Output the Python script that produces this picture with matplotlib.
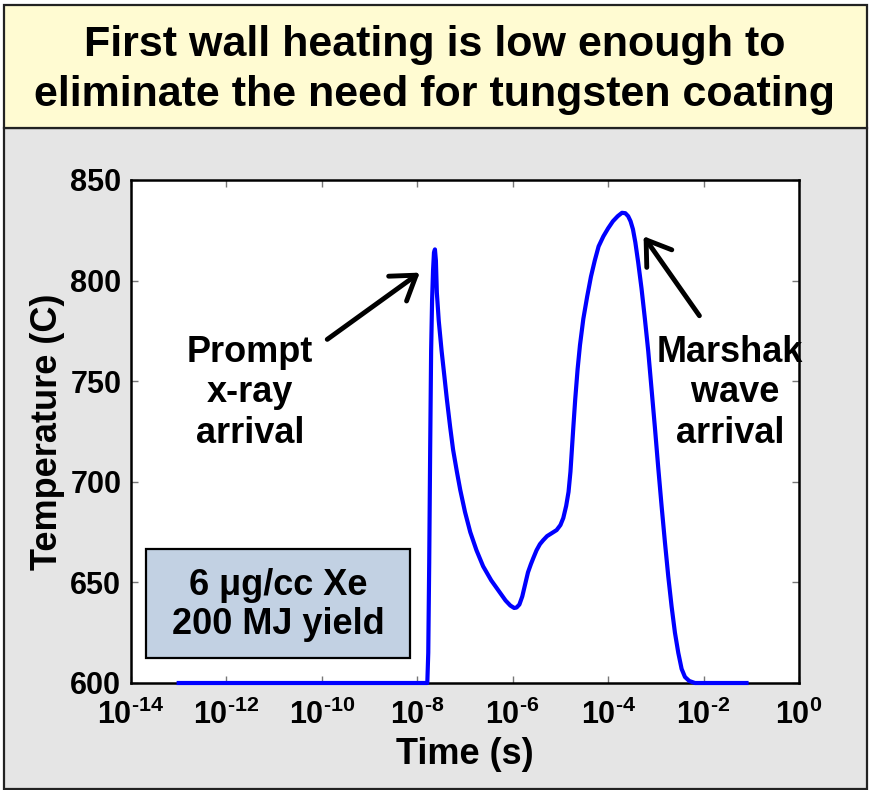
import numpy as np
import matplotlib
matplotlib.use("Agg")
import matplotlib.pyplot as plt
from matplotlib.patches import Rectangle, FancyArrowPatch

plt.rcParams['font.family'] = ['Liberation Sans', 'DejaVu Sans']
plt.rcParams['font.weight'] = 'bold'
plt.rcParams['mathtext.fontset'] = 'custom'
plt.rcParams['mathtext.rm'] = 'Liberation Sans:bold'
plt.rcParams['mathtext.it'] = 'Liberation Sans:bold'
plt.rcParams['mathtext.bf'] = 'Liberation Sans:bold'

# data: exponent of time (s) and temperature (C)
log_time = [-13.0, -7.79, -7.77, -7.75, -7.73, -7.71, -7.69, -7.67, -7.65, -7.63,
            -7.61, -7.59, -7.55, -7.49, -7.43, -7.38, -7.31, -7.25, -7.17, -7.10,
            -7.00, -6.89, -6.76, -6.62, -6.45, -6.27, -6.15, -6.05, -5.97, -5.92,
            -5.86, -5.80, -5.74, -5.68, -5.62, -5.57, -5.50, -5.43, -5.36, -5.28,
            -5.18, -5.08, -5.00, -4.94, -4.88, -4.83, -4.79, -4.76, -4.73, -4.69,
            -4.64, -4.59, -4.52, -4.44, -4.36, -4.28, -4.20, -4.10, -4.00, -3.90,
            -3.80, -3.71, -3.64, -3.58, -3.53, -3.48, -3.43, -3.37, -3.30, -3.23,
            -3.16, -3.09, -3.02, -2.95, -2.88, -2.81, -2.74, -2.67, -2.60, -2.53,
            -2.46, -2.39, -2.30, -2.18, -1.10]
temperature = [600, 600, 615, 660, 716, 765, 790, 805, 814, 815.5,
               810, 794, 780, 765, 752, 741, 727, 716, 705, 696,
               685, 675, 666, 658, 651, 645, 641, 638.5, 637.3, 637.5,
               639, 643, 649, 655, 659, 662, 666, 669, 671, 673,
               674.5, 676, 678.5, 682, 688, 695, 705, 716, 727, 741,
               756, 768, 781, 792, 802, 810, 817, 822, 826, 829.5,
               832, 833.7, 833.5, 832, 829.5, 825.5, 819, 809, 796, 781,
               765, 746, 727, 707, 688, 670, 653, 638, 625, 615,
               607, 603, 601, 600, 600]
time = np.power(10.0, log_time)

x_ticks = [1e-14, 1e-12, 1e-10, 1e-8, 1e-6, 1e-4, 1e-2, 1e0]
x_labels = [r'$\mathregular{10^{\text{-}14}}$', r'$\mathregular{10^{\text{-}12}}$',
            r'$\mathregular{10^{\text{-}10}}$', r'$\mathregular{10^{\text{-}8}}$',
            r'$\mathregular{10^{\text{-}6}}$', r'$\mathregular{10^{\text{-}4}}$',
            r'$\mathregular{10^{\text{-}2}}$', r'$\mathregular{10^{0}}$']
y_ticks = [600, 650, 700, 750, 800, 850]

W, H = 869, 790
fig = plt.figure(figsize=(W / 100, H / 100), dpi=100)
fig.patch.set_facecolor('white')

def px_rect(x0, y0, x1, y1, **kw):
    # rectangle given in picture pixels (y down)
    r = Rectangle((x0 / W, 1 - y1 / H), (x1 - x0) / W, (y1 - y0) / H,
                  transform=fig.transFigure, **kw)
    return r

fig.add_artist(px_rect(4, 128, 867, 789, facecolor='#e5e5e5', edgecolor='#222222', lw=1.6, zorder=0))
fig.add_artist(px_rect(4, 5, 867, 128, facecolor='#fffbd2', edgecolor='#222222', lw=1.6, zorder=0))
fig.text(0.5, 1 - 70 / H, 'First wall heating is low enough to\neliminate the need for tungsten coating',
         ha='center', va='center', fontsize=31, fontweight='bold', linespacing=1.3)

ax = fig.add_axes([131 / W, 1 - 683 / H, (799 - 131) / W, (683 - 180) / H])
ax.set_facecolor('white')
ax.plot(time, temperature, color='#0000ff', lw=3, clip_on=False, zorder=5)

ax.set_xscale('log')
ax.set_xlim(1e-14, 1e0)
ax.set_ylim(600, 850)
ax.set_xticks(x_ticks)
ax.set_xticklabels(x_labels)
ax.xaxis.set_minor_locator(matplotlib.ticker.NullLocator())
ax.set_yticks(y_ticks)
ax.tick_params(direction='in', length=5, width=1, color='#777777', top=True, right=True,
               labelsize=22)
ax.tick_params(axis='x', pad=12)
ax.tick_params(axis='y', pad=7)
for lab in ax.get_yticklabels():
    lab.set_fontweight('bold')
for s in ax.spines.values():
    s.set_linewidth(1.8)
    s.set_color('black')

ax.set_xlabel('Time (s)', fontsize=26, fontweight='bold', labelpad=4)
ax.set_ylabel('Temperature (C)', fontsize=26, fontweight='bold', labelpad=4)

def px_to_data(x, y):
    lx = -14 + (x - 131) / (799 - 131) * 14
    ty = 850 - (y - 180) / (683 - 180) * 250
    return 10 ** lx, ty

# annotations
ax.text(*px_to_data(250, 393), 'Prompt\nx-ray\narrival', ha='center', va='center',
        fontsize=26, fontweight='bold', linespacing=1.2)
ax.text(*px_to_data(730, 393), 'Marshak\n wave\narrival', ha='center', va='center',
        fontsize=26, fontweight='bold', linespacing=1.2, zorder=6, clip_on=False)

for tail, tip in [((325, 341), (422, 271)), ((701, 318), (642, 234))]:
    arr = FancyArrowPatch(px_to_data(*tail), px_to_data(*tip),
                          arrowstyle='->,head_length=0.75,head_width=0.5',
                          mutation_scale=22, lw=3.5, color='black', zorder=6)
    ax.add_patch(arr)

fig.add_artist(px_rect(146, 549, 410, 658, facecolor='#c2d1e3', edgecolor='black', lw=1.6, zorder=7))
fig.text(278 / W, 1 - 605 / H, '6 μg/cc Xe\n200 MJ yield', ha='center', va='center',
         fontsize=26, fontweight='bold', linespacing=1.15, zorder=8)

fig.savefig('out.png', dpi=100)
